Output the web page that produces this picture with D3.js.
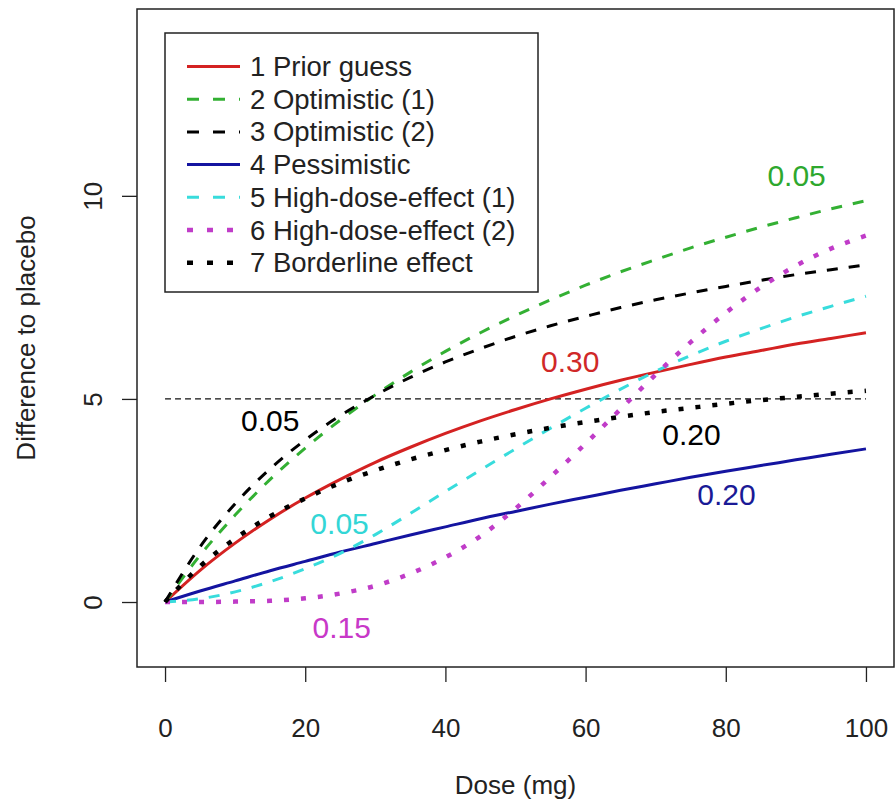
<!DOCTYPE html>
<html>
<head>
<meta charset="utf-8">
<script src="https://cdn.jsdelivr.net/npm/d3@7"></script>
<style>
  body { margin: 0; background: #fff; }
  #chart { width: 896px; height: 800px; }
  text { font-family: "Liberation Sans", Arial, sans-serif; fill: #222; }
</style>
</head>
<body>
<div id="chart"></div>
<script>
// values
const doses = [0, 5, 10, 15, 20, 25, 30, 35, 40, 45, 50, 55, 60, 65, 70, 75, 80, 85, 90, 95, 100];
const priorGuess = [0, 0.78, 1.45, 2.04, 2.56, 3.02, 3.44, 3.81, 4.15, 4.46, 4.74, 5.0, 5.24, 5.46, 5.66, 5.85, 6.03, 6.19, 6.35, 6.49, 6.63];
const optimistic1 = [0, 1.15, 2.14, 3.02, 3.79, 4.48, 5.1, 5.66, 6.17, 6.63, 7.05, 7.44, 7.8, 8.13, 8.43, 8.72, 8.98, 9.23, 9.46, 9.68, 9.88];
const optimistic2 = [0, 1.36, 2.42, 3.28, 3.99, 4.59, 5.09, 5.53, 5.91, 6.24, 6.54, 6.8, 7.03, 7.25, 7.44, 7.61, 7.77, 7.92, 8.06, 8.18, 8.3];
const pessimistic = [0, 0.27, 0.52, 0.77, 1.0, 1.23, 1.44, 1.65, 1.85, 2.05, 2.23, 2.41, 2.58, 2.75, 2.91, 3.07, 3.22, 3.36, 3.5, 3.64, 3.77];
const highDose1 = [0, 0.08, 0.25, 0.5, 0.82, 1.2, 1.66, 2.18, 2.72, 3.25, 3.77, 4.28, 4.77, 5.24, 5.68, 6.07, 6.42, 6.73, 7.02, 7.28, 7.53];
const highDose2 = [0, 0.0, 0.01, 0.03, 0.09, 0.21, 0.4, 0.7, 1.1, 1.62, 2.3, 3.08, 3.9, 4.75, 5.6, 6.4, 7.12, 7.75, 8.28, 8.7, 9.02];
const borderline = [0, 0.88, 1.56, 2.11, 2.55, 2.93, 3.24, 3.51, 3.74, 3.95, 4.13, 4.29, 4.43, 4.56, 4.68, 4.78, 4.88, 4.97, 5.05, 5.13, 5.2];

const seriesNames = ["1 Prior guess", "2 Optimistic (1)", "3 Optimistic (2)", "4 Pessimistic",
  "5 High-dose-effect (1)", "6 High-dose-effect (2)", "7 Borderline effect"];
const seriesValues = [priorGuess, optimistic1, optimistic2, pessimistic, highDose1, highDose2, borderline];

const refValue = 5;

// annotation text, which curve it belongs to, and where it sits (dose, value)
const labelText = ["0.05", "0.30", "0.05", "0.05", "0.15", "0.20", "0.20"];
const labelSeries = [1, 0, 2, 4, 5, 6, 3];
const labelDose = [90.1, 57.8, 15.0, 24.9, 25.2, 75.1, 80.1];
const labelValue = [10.49, 5.92, 4.46, 1.94, -0.62, 4.12, 2.64];

const xTicks = [0, 20, 40, 60, 80, 100];
const yTicks = [0, 5, 10];

class DoseResponsePlot {
  constructor(parentElement, config) {
    this.parentElement = parentElement;
    this.config = config;
    this.initVis();
  }

  initVis() {
    let vis = this;

    vis.margin = { top: 9, right: 2, bottom: 133, left: 137 };
    vis.width = 896 - vis.margin.left - vis.margin.right;
    vis.height = 800 - vis.margin.top - vis.margin.bottom;

    vis.svg = d3
      .select("#" + vis.parentElement)
      .append("svg")
      .attr("width", 896)
      .attr("height", 800)
      .append("g")
      .attr("transform", `translate(${vis.margin.left},${vis.margin.top})`);

    // R style: 4% padding on both ends of the limits
    vis.xScale = d3.scaleLinear().domain([-4, 104]).range([0, vis.width]);
    vis.yScale = d3.scaleLinear().domain([-1.6, 14.6]).range([vis.height, 0]);

    vis.xAxis = vis.svg.append("g").attr("transform", `translate(0,${vis.height})`);
    vis.yAxis = vis.svg.append("g");

    vis.svg
      .append("text")
      .attr("text-anchor", "middle")
      .attr("x", vis.xScale(50))
      .attr("y", vis.height + 127)
      .attr("font-size", "26px")
      .text("Dose (mg)");

    vis.svg
      .append("text")
      .attr("text-anchor", "middle")
      .attr("transform", "rotate(-90)")
      .attr("x", -vis.height / 2)
      .attr("y", -vis.margin.left + 35)
      .attr("font-size", "26px")
      .text("Difference to placebo");

    vis.updateVis();
  }

  updateVis() {
    let vis = this;
    const cfg = vis.config;

    vis.xAxis.call(d3.axisBottom(vis.xScale).tickValues(xTicks).tickSize(15).tickPadding(37));
    vis.yAxis.call(d3.axisLeft(vis.yScale).tickValues(yTicks).tickSize(15).tickPadding(20));

    vis.svg.selectAll(".domain").remove();
    vis.svg.selectAll(".tick line").attr("stroke", "#222").attr("stroke-width", 1.3);
    vis.xAxis.selectAll("text").attr("font-size", "26px").attr("fill", "#222");
    vis.yAxis
      .selectAll("text")
      .attr("font-size", "26px")
      .attr("fill", "#222")
      .attr("text-anchor", "middle")
      .attr("transform", "rotate(-90)")
      .attr("x", 0)
      .attr("y", -35)
      .attr("dy", null);

    // horizontal reference line at 5
    vis.svg
      .append("line")
      .attr("x1", vis.xScale(0))
      .attr("x2", vis.xScale(100))
      .attr("y1", vis.yScale(refValue))
      .attr("y2", vis.yScale(refValue))
      .attr("stroke", "#111")
      .attr("stroke-width", 1.2)
      .attr("stroke-dasharray", "6 4");

    const line = d3
      .line()
      .x((d, i) => vis.xScale(doses[i]))
      .y((d) => vis.yScale(d))
      .curve(d3.curveMonotoneX);

    vis.svg
      .selectAll(".curve")
      .data(seriesValues)
      .join("path")
      .attr("class", "curve")
      .attr("d", line)
      .attr("fill", "none")
      .attr("stroke", (d, i) => cfg.colors[i])
      .attr("stroke-width", (d, i) => cfg.widths[i])
      .attr("stroke-dasharray", (d, i) => cfg.dashes[i]);

    vis.svg
      .selectAll(".curve-label")
      .data(labelText)
      .join("text")
      .attr("class", "curve-label")
      .attr("x", (d, i) => vis.xScale(labelDose[i]))
      .attr("y", (d, i) => vis.yScale(labelValue[i]))
      .attr("text-anchor", "middle")
      .attr("dominant-baseline", "central")
      .attr("font-size", "30px")
      .style("fill", (d, i) => cfg.labelColors[labelSeries[i]])
      .text((d) => d);

    // plot frame
    vis.svg
      .append("rect")
      .attr("width", vis.width)
      .attr("height", vis.height)
      .attr("fill", "none")
      .attr("stroke", "#222")
      .attr("stroke-width", 1.5);

    // legend
    const legend = vis.svg.append("g").attr("transform", `translate(${165 - vis.margin.left},${33 - vis.margin.top})`);
    legend
      .append("rect")
      .attr("width", 373)
      .attr("height", 259)
      .attr("fill", "#fff")
      .attr("stroke", "#222")
      .attr("stroke-width", 1.5);

    const rows = legend
      .selectAll(".legend-row")
      .data(seriesNames)
      .join("g")
      .attr("class", "legend-row")
      .attr("transform", (d, i) => `translate(0,${33.5 + i * 32.7})`);

    rows
      .append("line")
      .attr("x1", 22)
      .attr("x2", 75)
      .attr("stroke", (d, i) => cfg.colors[i])
      .attr("stroke-width", (d, i) => cfg.widths[i])
      .attr("stroke-dasharray", (d, i) => cfg.legendDashes[i]);

    rows
      .append("text")
      .attr("x", 85)
      .attr("dominant-baseline", "central")
      .attr("font-size", "27.5px")
      .text((d) => d);
  }
}

new DoseResponsePlot("chart", {
  colors: ["#D42222", "#33B033", "#000000", "#1414A0", "#38DCDC", "#C03CC8", "#000000"],
  labelColors: ["#D02828", "#2EA82E", "#000000", "#1A1A96", "#33D6D6", "#C838C8", "#000000"],
  widths: [3, 3, 3, 3, 3, 4.5, 4.5],
  dashes: [null, "11 11", "11 11", null, "11 11", "5 12", "5 12"],
  legendDashes: [null, "12 14", "12 14", null, "12 14", "6 14", "6 14"],
});
</script>
</body>
</html>
